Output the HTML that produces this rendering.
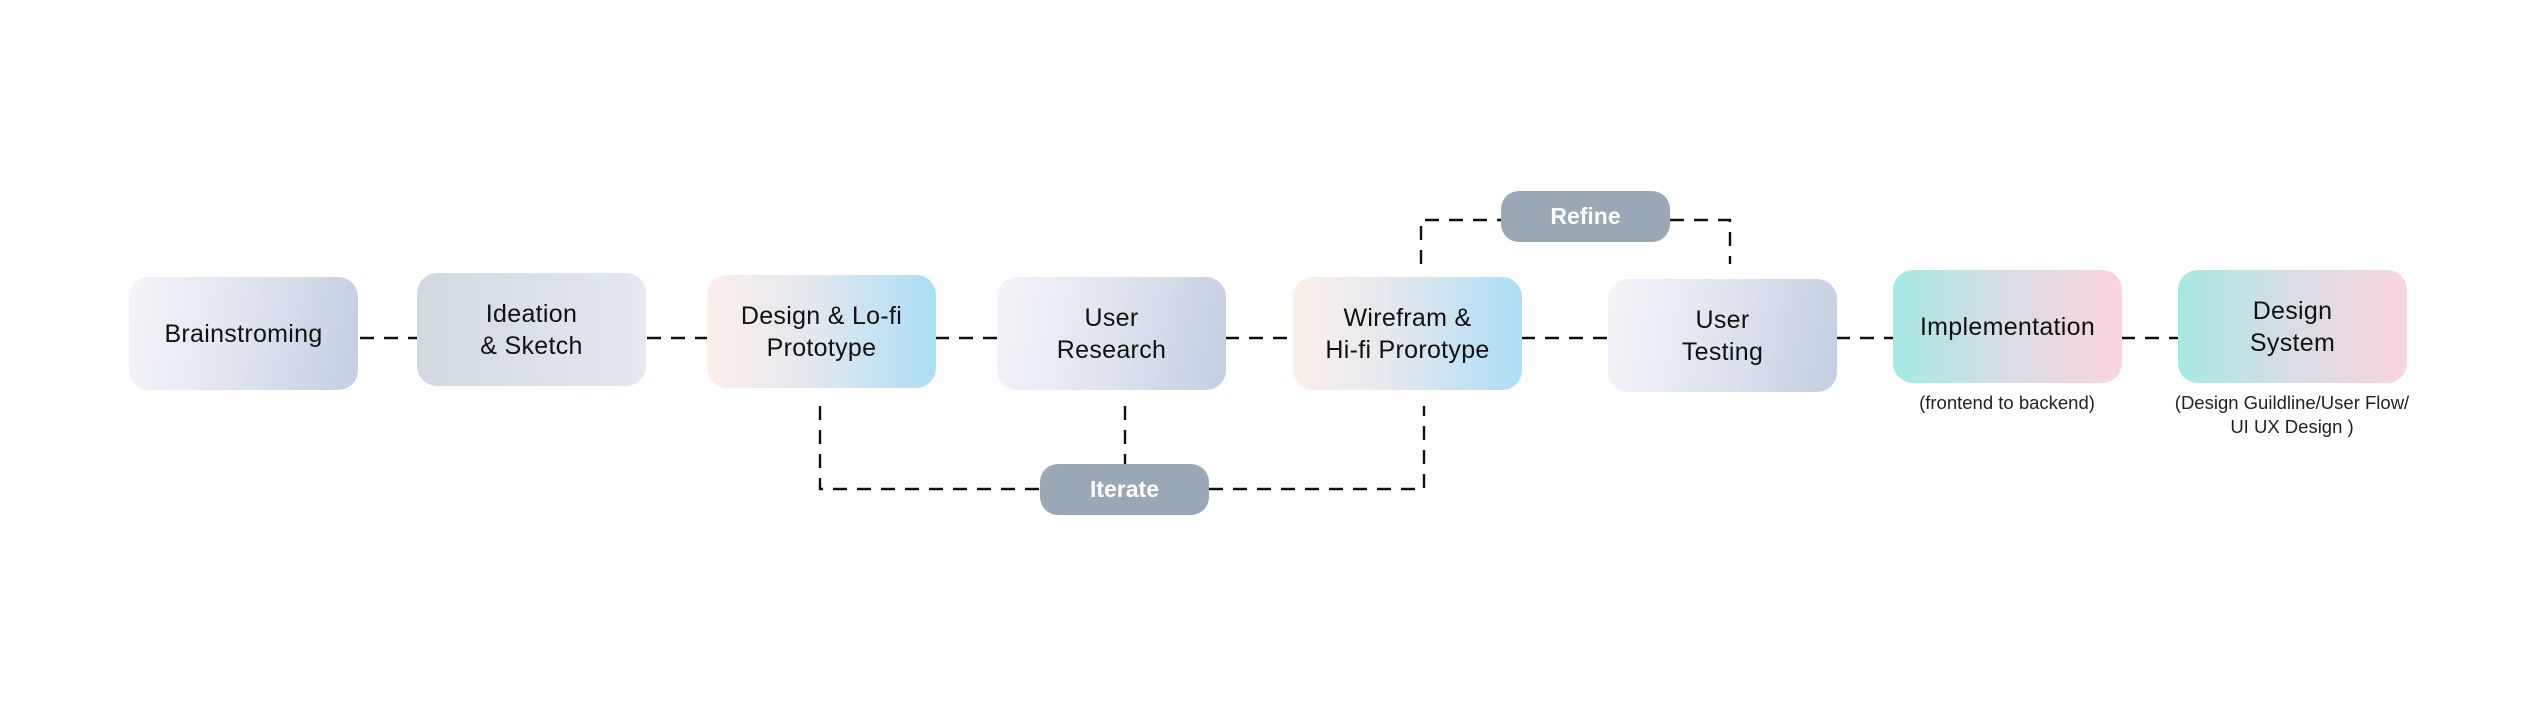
<!DOCTYPE html>
<html><head><meta charset="utf-8"><style>
body{margin:0;width:2537px;height:709px;background:#fff;position:relative;overflow:hidden;font-family:"Liberation Sans",sans-serif}
.b{position:absolute;width:229px;height:113px;border-radius:20px;display:flex;align-items:center;justify-content:center;text-align:center;font-size:25px;font-weight:500;line-height:32px;color:#111;letter-spacing:0.3px}
.g1{background:linear-gradient(100deg,#f4f5f9 0%,#dfe4ee 50%,#c3cee2 100%)}
.g2{background:linear-gradient(90deg,#d2d9e1,#e4e9f0)}
.g3{background:linear-gradient(90deg,#fcefea 0%,#e3e8ee 45%,#acdef6 100%)}
.g4{background:linear-gradient(90deg,#a6e9e3 0%,#d9dde4 50%,#fad4df 100%)}
.p{position:absolute;width:169px;height:51px;border-radius:18px;background:#9aa7b6;color:#fff;font-weight:bold;font-size:23px;display:flex;align-items:center;justify-content:center}
.c{position:absolute;font-size:18.5px;color:#222;text-align:center;line-height:24px}
svg{position:absolute;left:0;top:0}
</style></head><body>
<svg width="2537" height="709"><g stroke="#111" stroke-width="2.4" fill="none" stroke-dasharray="14 10">
<line x1="360" y1="338" x2="417" y2="338"/>
<line x1="647" y1="338" x2="707" y2="338"/>
<line x1="935" y1="338" x2="997" y2="338"/>
<line x1="1225" y1="338" x2="1293" y2="338"/>
<line x1="1521" y1="338" x2="1608" y2="338"/>
<line x1="1836" y1="338" x2="1893" y2="338"/>
<line x1="2121" y1="338" x2="2178" y2="338"/>
<polyline points="1421,264 1421,220 1501,220"/>
<polyline points="1670,220 1730,220 1730,264"/>
<polyline points="820,406 820,489 1040,489"/>
<polyline points="1209,489 1424,489 1424,406"/>
<line x1="1125" y1="406" x2="1125" y2="464"/>
</g></svg>
<div class="b g1" style="left:129px;top:277px">Brainstroming</div>
<div class="b g2" style="left:417px;top:273px">Ideation<br>&amp; Sketch</div>
<div class="b g3" style="left:707px;top:275px">Design &amp; Lo-fi<br>Prototype</div>
<div class="b g1" style="left:997px;top:277px">User<br>Research</div>
<div class="b g3" style="left:1293px;top:277px">Wirefram &amp;<br>Hi-fi Prorotype</div>
<div class="b g1" style="left:1608px;top:279px">User<br>Testing</div>
<div class="b g4" style="left:1893px;top:270px">Implementation</div>
<div class="b g4" style="left:2178px;top:270px">Design<br>System</div>
<div class="p" style="left:1501px;top:191px">Refine</div>
<div class="p" style="left:1040px;top:464px">Iterate</div>
<div class="c" style="left:1883px;width:248px;top:391px">(frontend to backend)</div>
<div class="c" style="left:2158px;width:268px;top:391px">(Design Guildline/User Flow/<br>UI UX Design )</div>
</body></html>
